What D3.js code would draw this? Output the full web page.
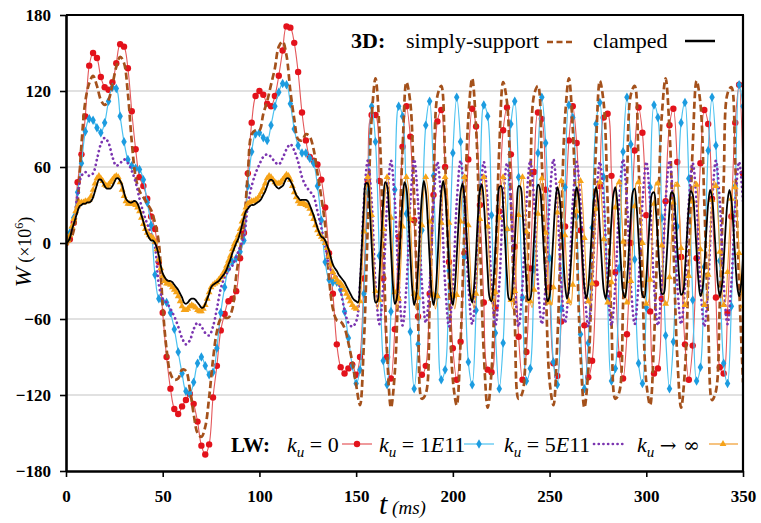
<!DOCTYPE html>
<html><head><meta charset="utf-8">
<script src="https://cdn.jsdelivr.net/npm/d3@7"></script>
<style>body{margin:0;background:#fff} svg{display:block} text{white-space:pre}</style>
</head><body>
<svg id="chart" width="761" height="523"></svg>
<script>
// sample grids (ms)
const timesFine = d3.range(0, 351, 1);
const timesCoarse = d3.range(0, 351, 2);

// 3D clamped (black), 1 ms samples
const clampedW = [
0,1,4,10,15,20,25,29,30,31,31,32,32,33,36,41,46,50,50,48,
45,43,43,43,45,48,51,51,49,46,40,35,33,32,32,33,33,31,27,22,
17,11,7,4,2,2,0,-4,-10,-18,-24,-27,-29,-30,-30,-31,-33,-35,-37,-40,
-43,-47,-48,-47,-45,-44,-44,-45,-47,-49,-51,-51,-48,-44,-40,-35,-33,-32,-31,-30,
-28,-26,-24,-21,-17,-13,-8,-4,0,3,8,14,20,25,27,29,30,30,31,32,
33,35,38,41,45,49,50,49,46,44,43,44,45,48,51,51,49,46,42,38,
36,34,34,34,34,33,30,26,22,17,12,8,5,4,2,-2,-6,-12,-17,-20,
-22,-25,-27,-29,-31,-34,-37,-40,-43,-45,-46,
-47,-30,-1,28,47,47,28,-1,-30,-47,
-46,-27,3,32,48,45,25,-5,-33,-48,
-44,-23,7,34,48,43,21,-9,-36,-49,
-42,-20,11,37,49,41,18,-13,-39,-49,
-40,-16,15,40,49,39,14,-17,-41,-49,
-36,-11,18,40,47,35,9,-20,-41,-47,
-34,-8,22,42,46,32,6,-23,-43,-46,
-31,-4,25,44,45,29,2,-27,-44,-45,
-28,0,28,45,44,26,-2,-30,-45,-44,
-25,4,31,46,43,23,-6,-33,-46,-42,
-20,7,32,44,38,18,-9,-33,-44,-37,
-17,11,34,44,37,15,-13,-35,-44,-35,
-13,14,36,44,34,11,-16,-37,-44,-33,
-10,18,38,44,32,8,-19,-39,-43,-31,
-6,21,40,43,29,4,-23,-41,-43,-28,
-2,23,39,40,25,1,-25,-40,-40,-24,
1,26,40,39,23,-3,-27,-41,-39,-21,
5,29,41,38,20,-6,-30,-42,-37,-18,
8,31,42,36,16,-10,-32,-42,-35,-15,
12,33,42,34,13,-13,-34,-42,-33,-11];

// LW k_u -> infinity (orange), 1 ms samples
const kuInfW = [
0,2,6,13,19,25,29,32,32,32,33,33,34,37,42,47,51,53,51,49,
46,45,46,48,50,52,53,52,48,42,37,33,31,31,31,31,30,28,25,20,
15,11,8,6,5,4,1,-5,-13,-20,-26,-30,-32,-32,-33,-35,-37,-39,-42,-46,
-50,-53,-53,-52,-50,-49,-50,-51,-53,-54,-54,-52,-49,-44,-39,-35,-33,-32,-31,-29,
-27,-25,-22,-18,-14,-10,-5,-1,2,6,11,17,23,28,31,32,33,33,34,35,
37,40,43,47,51,53,52,50,48,47,47,48,50,52,54,53,50,45,40,36,
33,31,31,31,30,29,27,23,19,14,10,7,5,3,0,-4,-10,-17,-23,-27,
-29,-31,-32,-34,-37,-40,-43,-46,-49,-51,-52,
-51,-46,-23,9,38,52,46,22,-10,-38,
-52,-45,-21,11,39,52,45,20,-12,-39,
-52,-44,-20,13,40,52,44,19,-13,-40,
-52,-43,-18,14,41,52,43,17,-15,-41,
-52,-42,-17,16,42,52,42,16,-17,-42,
-52,-41,-15,17,43,52,41,14,-18,-43,
-52,-40,-13,19,44,52,40,13,-20,-44,
-52,-39,-12,20,45,52,39,11,-21,-45,
-52,-38,-10,22,46,52,38,9,-23,-46,
-51,-37,-9,23,46,51,37,8,-24,-47,
-49,-35,-7,24,45,49,34,6,-25,-46,
-49,-33,-5,25,46,49,33,4,-26,-46,
-49,-32,-4,27,46,48,32,3,-27,-47,
-48,-31,-2,28,47,48,30,1,-29,-47,
-48,-30,0,29,48,48,29,0,-30,-48,
-47,-29,1,31,48,47,28,-2,-31,-48,
-47,-27,3,32,48,46,27,-4,-32,-49,
-46,-26,4,33,49,46,25,-5,-34,-49,
-46,-25,6,34,49,45,24,-7,-35,-49,
-45,-23,8,35,49,44,22,-8,-36,-50];

// 3D simply-support (brown dashed), 2 ms samples
const simplyW = [
0,2,10,32,78,112,126,132,124,113,109,113,125,139,147,142,118,80,52,41,
36,31,26,16,0,-50,-84,-103,-108,-107,-100,-101,-115,-135,-150,-153,-145,-122,-92,-70,
-60,-59,-59,-52,-26,-5,15,55,86,89,89,102,112,125,138,155,159,148,120,98,
82,81,86,84,74,55,36,14,-28,-52,-61,-62,-67,-79,-94,-112,
-128,-79,13,98,130,91,3,-87,-130,-102,
-19,74,127,111,35,-60,-123,-119,-50,45,
116,124,65,-30,-108,-128,-78,14,99,130,
91,2,-87,-130,-101,-18,75,127,111,34,
-61,-123,-118,-49,46,117,124,64,-31,-109,
-128,-78,15,99,130,90,1,-88,-130,-101,
-17,76,128,110,33,-62,-123,-118,-48,47,
117,124,63,-32,-110,-128,-77,16,100,130,
89,0,-89,-130,-100,-16,76,128,110,32,
-63,-124,-117,-48,48,118,123,62,-33,-110];

// LW k_u = 0 (red), 2 ms samples
const ku0W = [
0,3,16,48,70,100,140,150,146,131,123,121,127,142,157,155,138,104,74,52,
45,35,21,11,-15,-55,-90,-115,-131,-135,-129,-124,-119,-127,-141,-160,-167,-159,-122,-97,
-69,-56,-46,-44,-38,-12,8,55,95,116,120,117,110,108,116,132,152,171,170,158,
135,103,81,68,65,62,50,28,-8,-40,-80,-98,-103,-99,-96,-104,
-90,-28,49,101,101,49,-28,-90,-107,-68,
5,76,108,84,18,-58,-104,-97,-40,38,
96,105,60,-15,-83,-108,-78,-8,66,106,
92,30,-47,-100,-102,-51,25,89,107,70,
-3,-74,-108,-86,-20,56,103,98,42,-35,
-95,-105,-62,13,81,108,79,10,-65,-106,
-93,-32,45,99,102,53,-23,-88,-107,-72,
0,73,107,87,22,-54,-103,-99,-44,33,
93,106,64,-11,-80,-108,-81,-12,63,105,
94,35,-43,-98,-103,-55,21,95,125,55];

// LW k_u = 1E11 (blue), 2 ms samples
const ku1e11W = [
0,8,20,40,63,88,98,97,91,87,95,112,123,122,100,80,66,61,59,58,
50,32,14,-25,-44,-46,-47,-55,-68,-86,-103,-117,-119,-110,-95,-90,-97,-104,-102,-83,
-55,-35,-20,-15,-12,-7,2,45,72,86,87,83,81,93,108,119,126,125,110,90,
77,71,71,67,63,45,18,-15,-29,-31,-31,-37,-54,-75,-97,-111,
-100,-40,40,108,
80,-10,-93,-112,-54,42,108,100,23,-70,
-115,-80,10,93,112,53,-42,-108,-100,-22,
71,115,80,-11,-94,-112,-53,43,109,100,
22,-71,-115,-79,11,94,112,52,-43,-109,
-99,-21,71,115,79,-12,-94,-112,-52,44,
109,99,21,-72,-115,-79,12,94,111,52,
-44,-109,-99,-20,72,115,78,-13,-95,-111,
-51,44,109,99,20,-73,-115,-78,13,95,
111,51,-45,-109,-98,-19,73,115,77,-14,
-95,-111,-50,45,125,108];

// LW k_u = 5E11 (purple dotted), 2 ms samples
const ku5e11W = [
0,6,18,38,53,56,53,55,66,78,83,79,68,61,63,66,63,57,48,35,
24,15,7,-3,-33,-44,-47,-52,-58,-66,-75,-80,-77,-68,-63,-66,-71,-73,-66,-52,
-36,-27,-22,-18,-11,-3,5,30,45,55,62,68,70,68,64,62,67,74,78,73,
64,52,45,41,37,25,12,-2,-18,-24,-27,-38,-53,-63,-66,-62,
-33,32,65,33,-32,-64,-33,31,65,33,
-31,-65,-34,32,66,32,-32,-63,-33,31,
64,33,-32,-66,-34,32,65,32,-33,-64,
-32,33,64,31,-33,-65,-33,32,63,32,
-33,-66,-33,31,65,33,-32,-64,-32,33,
66,32,-32,-63,-33,32,64,32,-34,-66,
-33,31,64,33,-32,-65,-33,32,66,33,
-33,-64,-32,31,64,32,-33,-65,-32,33,
65,31,-32,-64,-34,32,63,32,-33,-66,
-33,32,65,33,-32,-64,-32,31,64,33];

const yTicks = [-180, -120, -60, 0, 60, 120, 180];
const gridValues = [-120, -60, 0, 60, 120];
const xTicks = [0, 50, 100, 150, 200, 250, 300, 350];

(function draw() {
const serif = "'Liberation Serif','Times New Roman',serif";
const svg = d3.select('#chart');
svg.append('rect').attr('width', 761).attr('height', 523).attr('fill', '#fff');

const L = 66, R = 743, T = 15, B = 471;
const x = d3.scaleLinear().domain([0, 350]).range([L, R]);
const y = d3.scaleLinear().domain([-180, 180]).range([B, T]);

svg.append('g').selectAll('line').data(gridValues).join('line')
  .attr('x1', L).attr('x2', R).attr('y1', d => y(d)).attr('y2', d => y(d))
  .attr('stroke', '#c4c4c4').attr('stroke-width', 1.2);

svg.append('defs').append('clipPath').attr('id', 'clip')
  .append('rect').attr('x', L).attr('y', T).attr('width', R - L).attr('height', B - T);

const plot = svg.append('g').attr('clip-path', 'url(#clip)');

function lineFor(times) {
  return d3.line().x((d, i) => x(times[i])).y(d => y(d)).curve(d3.curveCatmullRom.alpha(0.5));
}
const lineFine = lineFor(timesFine);
const lineCoarse = lineFor(timesCoarse);

plot.append('path').datum(ku0W).attr('d', lineCoarse).attr('fill', 'none')
  .attr('stroke', '#e4575a').attr('stroke-width', 1.1);
plot.append('g').selectAll('circle').data(ku0W).join('circle')
  .attr('cx', (d, i) => x(timesCoarse[i])).attr('cy', d => y(d)).attr('r', 3.2)
  .attr('fill', '#e3121b');

plot.append('path').datum(ku1e11W).attr('d', lineCoarse).attr('fill', 'none')
  .attr('stroke', '#4cc2f0').attr('stroke-width', 1.2);
const diamond = d3.symbol(d3.symbolDiamond, 26)();
plot.append('g').selectAll('path').data(ku1e11W).join('path')
  .attr('d', diamond)
  .attr('transform', (d, i) => `translate(${x(timesCoarse[i])},${y(d)})`)
  .attr('fill', '#1c9ce0');

plot.append('path').datum(simplyW).attr('d', lineCoarse).attr('fill', 'none')
  .attr('stroke', '#a4511b').attr('stroke-width', 2.7).attr('stroke-dasharray', '7,3.5');

plot.append('path').datum(ku5e11W).attr('d', lineCoarse).attr('fill', 'none')
  .attr('stroke', '#7b35b0').attr('stroke-width', 2.7).attr('stroke-linecap', 'round')
  .attr('stroke-dasharray', '0.1,4.6');

plot.append('path').datum(kuInfW).attr('d', lineFine).attr('fill', 'none')
  .attr('stroke', '#f19b2c').attr('stroke-width', 1.1);
const tri = d3.symbol(d3.symbolTriangle, 20)();
plot.append('g').selectAll('path').data(kuInfW.map((v, i) => [timesFine[i], v]).filter(p => p[0] <= 150 || p[0] % 2 === 0)).join('path')
  .attr('d', tri)
  .attr('transform', p => `translate(${x(p[0])},${y(p[1])})`)
  .attr('fill', '#f6a318');

plot.append('path').datum(clampedW).attr('d', lineFine).attr('fill', 'none')
  .attr('stroke', '#000').attr('stroke-width', 1.8);

const yAxis = svg.append('g').attr('transform', `translate(${L},0)`)
  .call(d3.axisLeft(y).tickValues(yTicks).tickSize(6).tickSizeOuter(0).tickPadding(9));
const xAxis = svg.append('g').attr('transform', `translate(0,${B})`)
  .call(d3.axisBottom(x).tickValues(xTicks).tickSize(6).tickSizeOuter(0).tickPadding(13));
[yAxis, xAxis].forEach(a => {
  a.select('.domain').attr('stroke', '#000').attr('stroke-width', 2.6);
  a.selectAll('.tick line').attr('stroke', '#000').attr('stroke-width', 1.6);
  a.selectAll('.tick text').attr('font-family', serif).attr('font-weight', 'bold')
    .attr('font-size', 17).attr('fill', '#000');
});
svg.append('line').attr('x1', L).attr('x2', R + 1).attr('y1', T).attr('y2', T)
  .attr('stroke', '#000').attr('stroke-width', 2);
svg.append('line').attr('x1', R).attr('x2', R).attr('y1', T).attr('y2', B)
  .attr('stroke', '#000').attr('stroke-width', 2.2);

const yt = svg.append('text').attr('transform', 'translate(31,252) rotate(-90)')
  .attr('text-anchor', 'middle').attr('font-family', serif).attr('fill', '#000');
yt.append('tspan').attr('font-style', 'italic').attr('font-size', 24).text('W');
yt.append('tspan').attr('font-size', 18).text(' (×10');
yt.append('tspan').attr('font-size', 12).attr('dy', -8).text('6');
yt.append('tspan').attr('font-size', 18).attr('dy', 8).text(')');

const xt = svg.append('text').attr('x', 379).attr('y', 514).attr('font-family', serif).attr('fill', '#000');
xt.append('tspan').attr('font-style', 'italic').attr('font-size', 30).text('t');
xt.append('tspan').attr('font-style', 'italic').attr('font-size', 19).text(' (ms)');

const legTop = svg.append('g').attr('font-family', serif).attr('fill', '#000');
legTop.append('text').attr('x', 351).attr('y', 48).attr('font-size', 22).attr('font-weight', 'bold').text('3D:');
legTop.append('text').attr('x', 406).attr('y', 48).attr('font-size', 22).text('simply-support');
legTop.append('line').attr('x1', 547).attr('x2', 575).attr('y1', 42).attr('y2', 42)
  .attr('stroke', '#a4511b').attr('stroke-width', 2.7).attr('stroke-dasharray', '6,3.5');
legTop.append('text').attr('x', 593).attr('y', 48).attr('font-size', 22).text('clamped');
legTop.append('line').attr('x1', 685).attr('x2', 715).attr('y1', 41).attr('y2', 41)
  .attr('stroke', '#000').attr('stroke-width', 2.5);

const legBot = svg.append('g').attr('font-family', serif).attr('fill', '#000');
legBot.append('text').attr('x', 231).attr('y', 452).attr('font-size', 21).attr('font-weight', 'bold').text('LW:');
function kuText(x0, parts) {
  const t = legBot.append('text').attr('x', x0).attr('y', 452).attr('font-size', 22);
  t.append('tspan').attr('font-style', 'italic').text('k');
  t.append('tspan').attr('font-style', 'italic').attr('font-size', 15).attr('dy', 5).text('u');
  parts.forEach((p, i) => {
    const s = t.append('tspan').attr('font-style', p[1] ? 'italic' : 'normal').text(p[0]);
    if (p[2]) s.attr('font-family', p[2]).attr('font-size', p[3]);
    if (i === 0) s.attr('dy', -5);
  });
}
kuText(287, [[' = 0', false]]);
kuText(379, [[' = 1', false], ['E', true], ['11', false]]);
kuText(504, [[' = 5', false], ['E', true], ['11', false]]);
kuText(637, [[' ', false], ['→', false, "'DejaVu Serif',serif", 20], [' ∞', false, "'DejaVu Serif',serif", 20]]);
const ly = 444;
legBot.append('line').attr('x1', 342).attr('x2', 372).attr('y1', ly).attr('y2', ly).attr('stroke', '#e4575a').attr('stroke-width', 1.2);
legBot.append('circle').attr('cx', 357).attr('cy', ly).attr('r', 3.2).attr('fill', '#e3121b');
legBot.append('line').attr('x1', 464).attr('x2', 494).attr('y1', ly).attr('y2', ly).attr('stroke', '#4cc2f0').attr('stroke-width', 1.2);
legBot.append('path').attr('d', diamond).attr('transform', `translate(479,${ly})`).attr('fill', '#1c9ce0');
legBot.append('line').attr('x1', 594).attr('x2', 623).attr('y1', ly).attr('y2', ly).attr('stroke', '#7b35b0')
  .attr('stroke-width', 2.7).attr('stroke-linecap', 'round').attr('stroke-dasharray', '0.1,4.6');
legBot.append('line').attr('x1', 709).attr('x2', 738).attr('y1', ly).attr('y2', ly).attr('stroke', '#f19b2c').attr('stroke-width', 1.2);
legBot.append('path').attr('d', tri).attr('transform', `translate(723,${ly})`).attr('fill', '#f6a318');
})();
</script>
</body></html>
